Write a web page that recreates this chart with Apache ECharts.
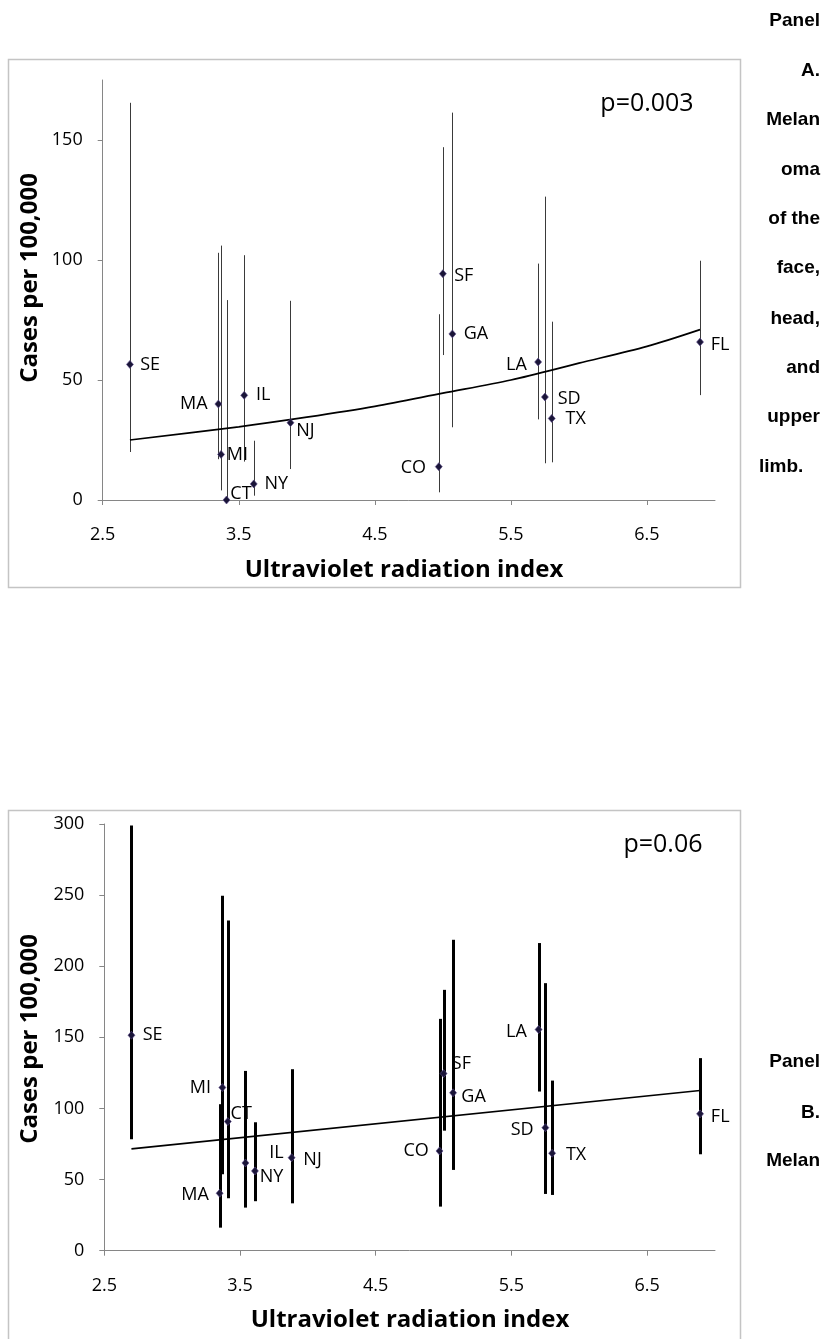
<!DOCTYPE html>
<html>
<head>
<meta charset="utf-8">
<script src="https://cdn.jsdelivr.net/npm/echarts@6/dist/echarts.min.js"></script>
<style>
  html, body { margin: 0; padding: 0; background: #fff; }
  #chart { width: 822px; height: 1339px; }
</style>
</head>
<body>
<div id="chart"></div>
<script>
// states / registries and their UV radiation index
const states = ['SE', 'MA', 'MI', 'CT', 'IL', 'NY', 'NJ', 'CO', 'SF', 'GA', 'LA', 'SD', 'TX', 'FL'];
const uvIndex = [2.7, 3.35, 3.37, 3.41, 3.54, 3.61, 3.88, 4.97, 5.0, 5.07, 5.7, 5.75, 5.8, 6.89];

// Panel A: face, head and upper limb
const ratesA = [56.5, 40, 19, 0, 43.6, 6.7, 32.2, 13.9, 94.3, 69.2, 57.5, 42.9, 34, 65.8];
const lowA = [20, 17, 4, 0, 16, 1.8, 12.9, 3.2, 60.4, 30.3, 33.6, 15.3, 15.7, 43.7];
const highA = [165.5, 103, 106, 83.3, 102, 24.7, 83, 77.4, 147, 161.4, 98.5, 126.4, 74.3, 99.7];
const trendXA = [2.7, 3.5, 4.0, 4.5, 5.0, 5.5, 6.0, 6.5, 6.89];
const trendYA = [25, 30.5, 34.5, 39, 44.5, 50, 57, 64, 71];

// Panel B
const ratesB = [151.5, 40.4, 114.7, 90.8, 61.7, 56.1, 65.4, 70.1, 124.5, 111, 155.5, 86.5, 68.5, 96.2];
const lowB = [78.4, 16.2, 53.7, 36.9, 30.3, 34.8, 33.3, 31, 84.4, 56.8, 111.9, 39.9, 39.2, 67.8];
const highB = [299, 103, 249.6, 232.2, 126.4, 90.3, 127.6, 163, 183.4, 218.6, 216.3, 188.1, 119.6, 135.4];
const trendXB = [2.7, 6.89];
const trendYB = [71.6, 112.6];

const xTicks = [2.5, 3.5, 4.5, 5.5, 6.5];
const yTicksA = [0, 50, 100, 150];

// label placement: [position, distance, dy]
const labelPosA = {
  SE: ['right', 6.5, 0], MA: ['left', 7, 0], MI: ['right', 2, 0], CT: ['right', 0, -6],
  IL: ['right', 8, 0], NY: ['right', 7, 0], NJ: ['right', 2, 8], CO: ['left', 9, 1],
  SF: ['right', 7.5, 2], GA: ['right', 7.5, 0], LA: ['left', 7.5, 3], SD: ['right', 9, 2],
  TX: ['right', 10, 0], FL: ['right', 7, 3]
};
const labelPosB = {
  SE: ['right', 7.5, 0], MA: ['left', 7, 2], MI: ['left', 7.5, 0], CT: ['right', -1, -8],
  IL: ['right', 20, -10], NY: ['right', 1, 6], NJ: ['right', 8, 2], CO: ['left', 7, 0],
  SF: ['right', 4.5, -10], GA: ['right', 4.5, 4], LA: ['left', 8, 2], SD: ['left', 8, 2],
  TX: ['right', 10, 2], FL: ['right', 7, 3]
};

const chart = echarts.init(document.getElementById('chart'), null, { renderer: 'canvas' });

const tickFont = { color: '#000', fontSize: 18, fontFamily: 'Open Sans' };
const axisGray = '#868686';

function xAxisCfg(idx) {
  return {
    type: 'value', gridIndex: idx, min: 2.5, max: 7, interval: 1,
    axisLine: { show: true, lineStyle: { color: axisGray, width: 1 } },
    axisTick: { show: true, length: 5, customValues: xTicks, lineStyle: { color: axisGray } },
    axisLabel: Object.assign({ margin: 26, customValues: xTicks }, tickFont),
    splitLine: { show: false }
  };
}

function yAxisCfg(idx, max, ticks) {
  const cfg = {
    type: 'value', gridIndex: idx, min: 0, max: max, interval: 50,
    axisLine: { show: true, lineStyle: { color: axisGray, width: 1 } },
    axisTick: { show: true, length: 5, lineStyle: { color: axisGray } },
    axisLabel: Object.assign({ margin: 20 }, tickFont),
    splitLine: { show: false }
  };
  if (ticks) {
    cfg.axisTick.customValues = ticks;
    cfg.axisLabel.customValues = ticks;
  }
  return cfg;
}

function errorBars(idx, lows, highs, width, color) {
  return {
    type: 'custom', xAxisIndex: idx, yAxisIndex: idx, silent: true, z: 2,
    data: uvIndex.map((x, i) => [x, lows[i], highs[i]]),
    renderItem: (params, api) => {
      const lo = api.coord([api.value(0), api.value(1)]);
      const hi = api.coord([api.value(0), api.value(2)]);
      return {
        type: 'line',
        shape: { x1: Math.round(lo[0]) + 0.5, y1: lo[1], x2: Math.round(hi[0]) + 0.5, y2: hi[1] },
        style: { stroke: color, lineWidth: width }
      };
    }
  };
}

function points(idx, rates, labelPos) {
  return {
    type: 'scatter', xAxisIndex: idx, yAxisIndex: idx, z: 5,
    symbol: 'diamond', symbolSize: [7, 8],
    itemStyle: { color: '#1a1538', borderColor: '#5b4a8a', borderWidth: 0.6, opacity: 1 },
    label: { show: true, formatter: '{b}', color: '#000', fontSize: 18, fontFamily: 'Open Sans' },
    data: states.map((s, i) => {
      const p = labelPos[s];
      return {
        name: s, value: [uvIndex[i], rates[i]],
        label: { position: p[0], distance: p[1], offset: [0, p[2]] }
      };
    })
  };
}

function trend(idx, xs, ys, smooth, width) {
  return {
    type: 'line', xAxisIndex: idx, yAxisIndex: idx, z: 3,
    data: xs.map((x, i) => [x, ys[i]]),
    smooth: smooth, showSymbol: false, silent: true,
    lineStyle: { color: '#000', width: width }
  };
}

function rightText(lines, ys) {
  return lines.map((t, i) => ({
    type: 'text',
    x: t === 'limb.' ? 759 : 820, y: ys[i],
    style: {
      text: t, fill: '#000', font: 'bold 19px "Liberation Sans", Arial, sans-serif',
      textAlign: t === 'limb.' ? 'left' : 'right', textVerticalAlign: 'middle'
    }
  }));
}

const titleFont = 'bold 24px "Open Sans", sans-serif';

const graphics = [
  { type: 'rect', shape: { x: 8.5, y: 59.5, width: 732, height: 528 }, style: { fill: 'none', stroke: '#c4c4c4', lineWidth: 1.5 }, z: -1 },
  { type: 'rect', shape: { x: 8.5, y: 810.5, width: 732, height: 600 }, style: { fill: 'none', stroke: '#c4c4c4', lineWidth: 1.5 }, z: -1 },
  { type: 'text', x: 404, y: 570, style: { text: 'Ultraviolet radiation index', font: titleFont, fill: '#000', textAlign: 'center', textVerticalAlign: 'middle' } },
  { type: 'text', x: 410, y: 1320, style: { text: 'Ultraviolet radiation index', font: titleFont, fill: '#000', textAlign: 'center', textVerticalAlign: 'middle' } },
  { type: 'text', x: 30, y: 278, rotation: Math.PI / 2, style: { text: 'Cases per 100,000', font: titleFont, fill: '#000', textAlign: 'center', textVerticalAlign: 'middle' } },
  { type: 'text', x: 30, y: 1039, rotation: Math.PI / 2, style: { text: 'Cases per 100,000', font: titleFont, fill: '#000', textAlign: 'center', textVerticalAlign: 'middle' } },
  { type: 'text', x: 647, y: 104, style: { text: 'p=0.003', font: '25px "Open Sans", sans-serif', fill: '#000', textAlign: 'center', textVerticalAlign: 'middle' } },
  { type: 'text', x: 663, y: 845, style: { text: 'p=0.06', font: '25px "Open Sans", sans-serif', fill: '#000', textAlign: 'center', textVerticalAlign: 'middle' } }
].concat(
  rightText(['Panel', 'A.', 'Melan', 'oma', 'of the', 'face,', 'head,', 'and', 'upper', 'limb.'],
            [20.5, 71, 120, 170, 218.5, 268, 318.5, 367.5, 416.5, 466.5]),
  rightText(['Panel', 'B.', 'Melan'], [1061.5, 1112.5, 1160.5])
);

const option = {
  backgroundColor: '#fff',
  animation: false,
  grid: [
    { left: 102.7, top: 80, width: 612.3, height: 420 },
    { left: 104.3, top: 824, width: 610.7, height: 426.7 }
  ],
  xAxis: [xAxisCfg(0), xAxisCfg(1)],
  yAxis: [yAxisCfg(0, 175, yTicksA), yAxisCfg(1, 300, null)],
  graphic: graphics,
  series: [
    errorBars(0, lowA, highA, 1, '#3a3a3a'),
    trend(0, trendXA, trendYA, 0.3, 1.7),
    points(0, ratesA, labelPosA),
    errorBars(1, lowB, highB, 3, '#000'),
    trend(1, trendXB, trendYB, false, 1.6),
    points(1, ratesB, labelPosB)
  ]
};

chart.setOption(option);
</script>
</body>
</html>
